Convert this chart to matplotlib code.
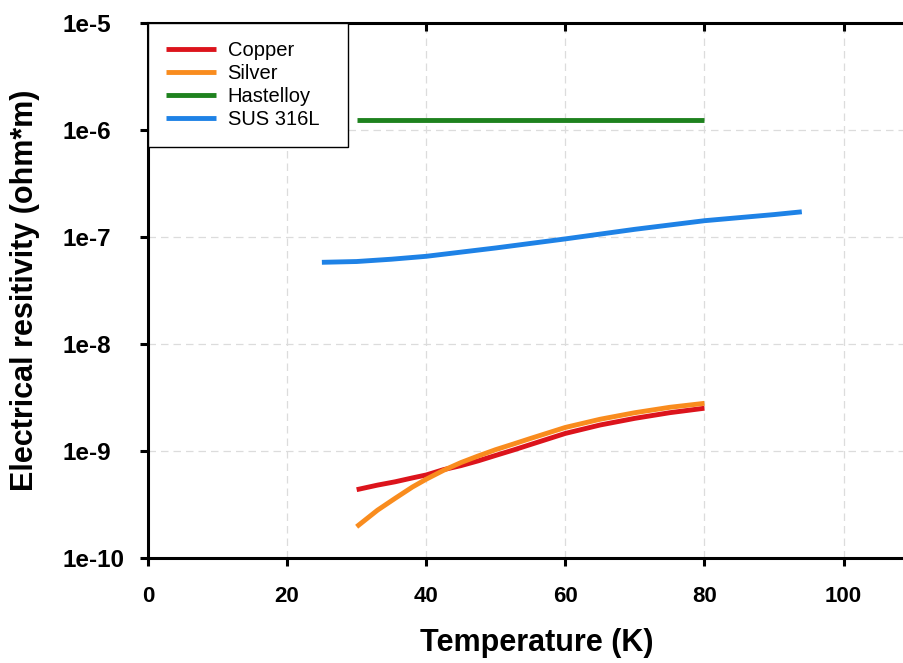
import matplotlib
matplotlib.use("Agg")
import matplotlib.pyplot as plt
from matplotlib.ticker import FixedLocator, FuncFormatter, NullLocator

plt.rcParams['font.family'] = ['Liberation Sans', 'DejaVu Sans']

# Resistivity vs temperature (ohm*m)
temp_cu = [30, 33, 35.5, 38, 40, 42.5, 45, 47.5, 50, 52.5, 55, 60, 65, 70, 75, 80]
rho_cu = [4.35e-10, 4.8e-10, 5.15e-10, 5.6e-10, 5.97e-10, 6.7e-10, 7.3e-10,
          8.1e-10, 9.1e-10, 1.02e-9, 1.15e-9, 1.46e-9, 1.75e-9, 2.02e-9,
          2.28e-9, 2.51e-9]

temp_ag = [30, 33, 35.5, 38, 40, 42.5, 45, 47.5, 50, 52.5, 55, 60, 65, 70, 75, 80]
rho_ag = [1.96e-10, 2.8e-10, 3.6e-10, 4.6e-10, 5.45e-10, 6.6e-10, 7.8e-10,
          9.0e-10, 1.03e-9, 1.16e-9, 1.31e-9, 1.66e-9, 1.98e-9, 2.28e-9,
          2.56e-9, 2.79e-9]

temp_hast = [30, 80]
rho_hast = [1.24e-6, 1.24e-6]

temp_sus = [25, 30, 35, 40, 50, 60, 70, 80, 90, 94]
rho_sus = [5.8e-8, 5.9e-8, 6.2e-8, 6.6e-8, 7.9e-8, 9.6e-8, 1.18e-7,
           1.42e-7, 1.62e-7, 1.72e-7]

series_names = ['Copper', 'Silver', 'Hastelloy', 'SUS 316L']
series_colors = ['#dc141c', '#f98c1e', '#1e821e', '#1e82e6']

x_ticks = [0, 20, 40, 60, 80, 100]
y_ticks = [1e-10, 1e-9, 1e-8, 1e-7, 1e-6, 1e-5]
y_tick_labels = ['1e-10', '1e-9', '1e-8', '1e-7', '1e-6', '1e-5']

W, H = 904, 663
fig = plt.figure(figsize=(W / 100, H / 100), dpi=100)
ax_left, ax_bottom, ax_w, ax_h = 148, 105, 779, 535
ax = fig.add_axes([ax_left / W, ax_bottom / H, ax_w / W, ax_h / H])

ax.set_yscale('log')
ax.set_xlim(0, 112)
ax.set_ylim(1e-10, 1e-5)

for xs, ys, name, col in zip([temp_cu, temp_ag, temp_hast, temp_sus],
                             [rho_cu, rho_ag, rho_hast, rho_sus],
                             series_names, series_colors):
    ax.plot(xs, ys, color=col, lw=3.5, label=name, solid_capstyle='butt',
            solid_joinstyle='round')

# grid
ax.xaxis.set_major_locator(FixedLocator(x_ticks))
ax.yaxis.set_major_locator(FixedLocator(y_ticks))
ax.yaxis.set_minor_locator(NullLocator())
ax.yaxis.set_major_formatter(FuncFormatter(
    lambda v, p: y_tick_labels[y_ticks.index(v)] if v in y_ticks else ''))
ax.grid(True, which='major', color='#dcdcdc', lw=0.9, ls=(0, (6, 4)))
ax.set_axisbelow(True)

for s in ['left', 'bottom', 'top']:
    ax.spines[s].set_linewidth(2.2)
ax.spines['right'].set_visible(False)

ax.tick_params(axis='x', which='major', direction='out', length=6, width=2.2,
               pad=14, labelsize=16, top=True)
ax.tick_params(axis='y', which='major', direction='out', length=6, width=2.2,
               labelsize=17.5)
for lab in ax.get_xticklabels() + ax.get_yticklabels():
    lab.set_fontweight('bold')
for lab in ax.get_yticklabels():
    lab.set_horizontalalignment('left')
ax.tick_params(axis='y', pad=(148 - 6 * 1.39 - 62) / 1.389)
# top ticks point inward
for t in ax.xaxis.get_major_ticks():
    t.tick2line.set_marker(3)

ax.set_xlabel('Temperature (K)', fontsize=22, fontweight='bold')
ax.xaxis.set_label_coords((537 - ax_left) / ax_w, (558 - 628) / ax_h)
ax.set_ylabel('Electrical resitivity (ohm*m)', fontsize=22, fontweight='bold')
ax.yaxis.set_label_coords((40 - ax_left) / ax_w, 0.5)

leg = ax.legend(loc='upper left', bbox_to_anchor=(0, 1, (348 - 148) / ax_w, 0),
                mode='expand', borderaxespad=0,
                fancybox=False, edgecolor='black', framealpha=1,
                fontsize=14.5, handlelength=2.5, handletextpad=0.55,
                labelspacing=0.2, borderpad=0.9)
leg.get_frame().set_linewidth(1.0)

fig.savefig('out.png', dpi=100)
